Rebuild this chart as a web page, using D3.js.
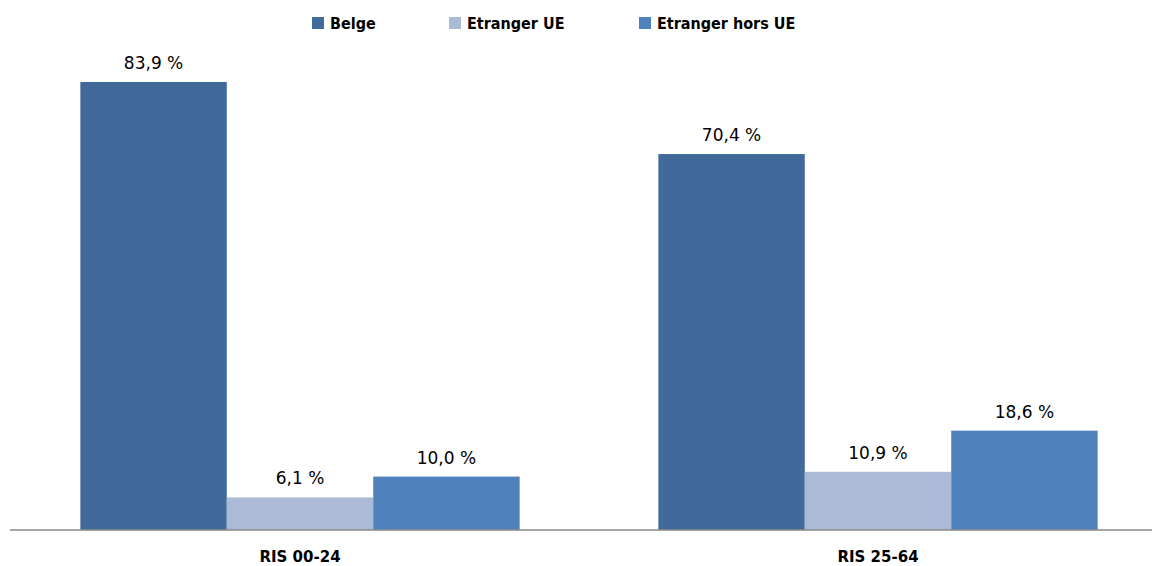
<!DOCTYPE html>
<html lang="fr">
<head>
<meta charset="utf-8">
<title>RIS par nationalité</title>
<script src="https://d3js.org/d3.v7.min.js"></script>
<style>
  body { margin: 0; background: #fff; }
  svg { display: block; }
</style>
</head>
<body>
<script>
// data
const categories = ["RIS 00-24", "RIS 25-64"];
const seriesNames = ["Belge", "Etranger UE", "Etranger hors UE"];
const belge = [83.9, 70.4];
const etrangerUE = [6.1, 10.9];
const etrangerHorsUE = [10.0, 18.6];

const colors = ["#416A9B", "#AABAD7", "#4F81BD"];

const W = 1152, H = 566;
const baseY = 530;

const svg = d3.select("body").append("svg")
    .attr("width", W)
    .attr("height", H);

const x0 = d3.scaleBand()
    .domain(categories)
    .range([11, 1167])
    .paddingInner(0.24)
    .paddingOuter(0.12);

const x1 = d3.scaleBand()
    .domain(seriesNames)
    .range([0, x0.bandwidth()]);

const y = d3.scaleLinear()
    .domain([0, 100])
    .range([baseY, baseY - 534]);

const fmt = v => d3.format(".1f")(v).replace(".", ",") + " %";

const rows = categories.map((c, i) => ({
  cat: c,
  vals: [belge[i], etrangerUE[i], etrangerHorsUE[i]].map((v, j) => ({ name: seriesNames[j], v: v, color: colors[j] }))
}));

const groups = svg.selectAll(".grp")
    .data(rows)
    .enter().append("g")
    .attr("class", "grp")
    .attr("transform", d => "translate(" + x0(d.cat) + ",0)");

groups.selectAll("rect")
    .data(d => d.vals)
    .enter().append("rect")
    .attr("x", d => x1(d.name))
    .attr("y", d => y(d.v))
    .attr("width", x1.bandwidth())
    .attr("height", d => baseY - y(d.v))
    .attr("fill", d => d.color);

groups.selectAll("text.val")
    .data(d => d.vals)
    .enter().append("text")
    .attr("class", "val")
    .attr("x", d => x1(d.name) + x1.bandwidth() / 2)
    .attr("y", d => y(d.v) - 13)
    .attr("text-anchor", "middle")
    .style("font-family", "'DejaVu Sans', sans-serif")
    .style("font-size", "17px")
    .style("fill", "#000")
    .text(d => fmt(d.v));

// x axis
const xAxis = svg.append("g")
    .attr("transform", "translate(0," + baseY + ")")
    .call(d3.axisBottom(x0).tickSize(0).tickPadding(21));
xAxis.select(".domain").attr("stroke", "#888").attr("stroke-width", 1.5)
    .attr("d", "M10,0H1152");
xAxis.selectAll("text")
    .style("font-family", "'DejaVu Sans', sans-serif")
    .style("font-weight", "bold")
    .style("font-size", "15px")
    .style("fill", "#000");

// legend
const legendX = [312, 449, 639];
const legend = svg.append("g");
seriesNames.forEach((s, i) => {
  legend.append("rect")
      .attr("x", legendX[i]).attr("y", 17)
      .attr("width", 12).attr("height", 12)
      .attr("fill", colors[i]);
  legend.append("text")
      .attr("x", legendX[i] + 18).attr("y", 29)
      .style("font-family", "'DejaVu Sans Condensed', 'Liberation Sans', sans-serif")
      .style("font-weight", "bold")
      .style("font-size", "16px")
      .style("fill", "#000")
      .text(s);
});
</script>
</body>
</html>
